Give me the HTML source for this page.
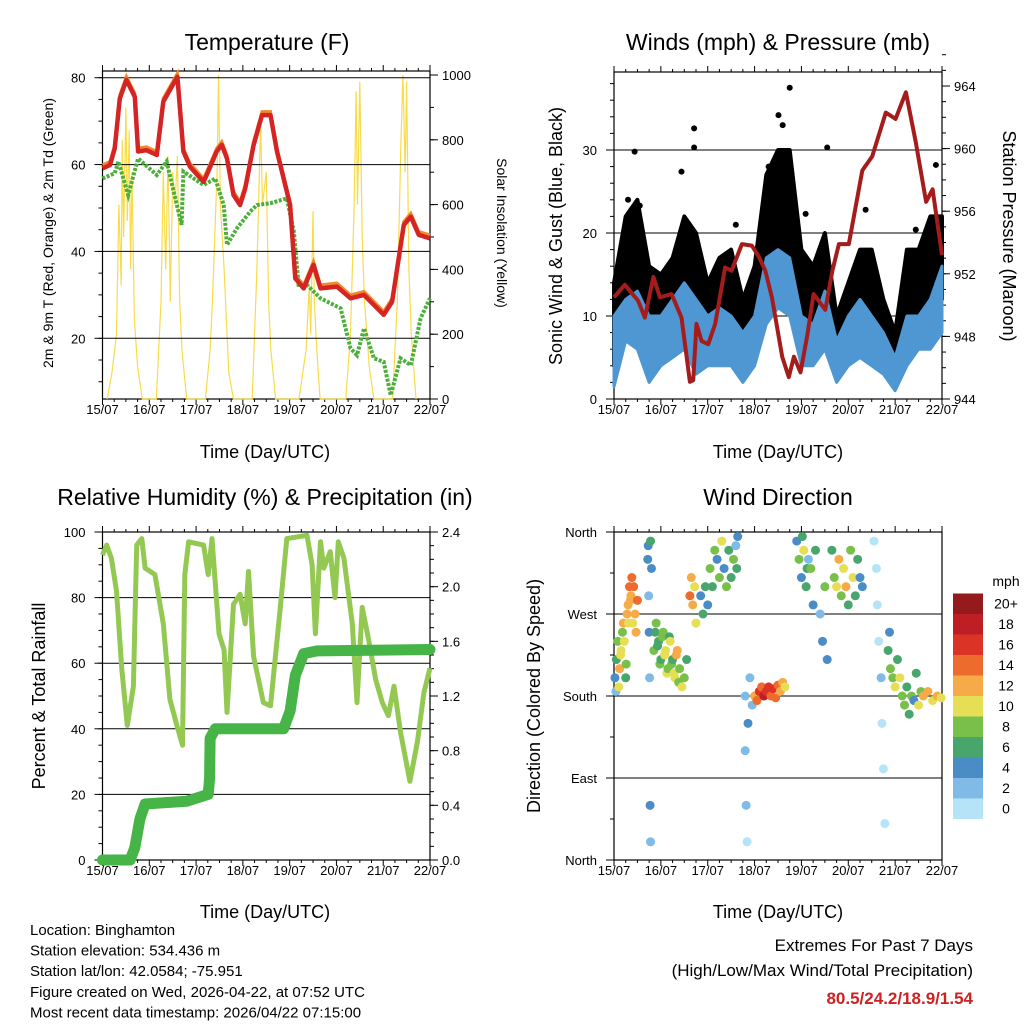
<!DOCTYPE html>
<html><head><meta charset="utf-8"><style>
html,body{margin:0;padding:0;background:#fff;}
svg{display:block;font-family:"Liberation Sans",Arial,sans-serif;}
</style></head><body>
<svg id="s" width="1024" height="1024" viewBox="0 0 1024 1024" xmlns="http://www.w3.org/2000/svg"></svg>
<script>
// ---------- DATA ----------
const dayLabels=["15/07","16/07","17/07","18/07","19/07","20/07","21/07","22/07"];
const tempT=[0,0.16,0.26,0.37,0.51,0.69,0.76,0.94,1.16,1.3,1.6,1.73,1.87,2.16,2.26,2.44,2.55,2.66,2.8,2.94,3.05,3.23,3.41,3.59,3.73,3.94,4.01,4.12,4.3,4.51,4.66,5.01,5.3,5.59,5.8,6.01,6.19,6.44,6.59,6.76,7];
const tempV=[59.1,59.9,63.7,75.2,79.5,75.6,63,63.3,62.2,74.5,80.2,63,59.5,56,58.4,63,64.5,61.4,53,50.7,54.5,64.5,71.4,71.4,63,53.8,50.7,33.8,31.5,36.9,31.5,31.9,29.2,30,27.7,25.4,28.4,46.1,48,43.8,43];
const dewT=[0,0.26,0.34,0.55,0.76,1.16,1.37,1.69,1.73,2.16,2.41,2.59,2.66,2.87,3.16,3.3,3.59,3.94,4.09,4.19,4.37,4.66,5.09,5.3,5.44,5.59,5.8,6.01,6.16,6.37,6.59,6.8,7];
const dewV=[56.8,58,60.7,53,61.4,57.6,60.7,46.1,58.4,55.3,56.8,50.7,41.5,45.3,49.2,50.7,51.1,52.2,44.5,32.3,32.3,29.2,26.9,17.7,16.1,22.3,15.4,14.6,6.9,15.4,13.8,24.6,29.2];
const solarT=[0.1,0.2,0.3,0.35,0.4,0.42,0.45,0.5,0.53,0.57,0.6,0.63,0.68,0.75,0.85,1.15,1.25,1.3,1.35,1.4,1.45,1.5,1.55,1.6,1.65,1.7,1.8,2.2,2.3,2.35,2.45,2.48,2.52,2.6,2.7,2.8,3.2,3.3,3.38,3.42,3.5,3.55,3.6,3.7,4.2,4.35,4.42,4.45,4.5,4.53,4.58,4.65,5.2,5.3,5.38,5.42,5.45,5.5,5.55,5.6,5.7,5.8,6.2,6.3,6.38,6.42,6.47,6.5,6.55,6.6,6.7];
const solarV=[0,80,200,600,350,800,500,900,550,830,400,700,250,100,0,0,300,700,400,750,300,700,600,750,300,150,0,0,150,300,700,1000,600,400,80,0,0,400,850,600,700,300,150,0,0,150,350,200,580,300,150,0,0,200,600,950,600,980,500,300,100,0,0,300,800,1000,700,980,400,200,0];
const rhT=[0,0.09,0.19,0.3,0.41,0.53,0.66,0.73,0.84,0.91,1.12,1.3,1.44,1.59,1.71,1.76,1.84,2.16,2.26,2.34,2.49,2.6,2.66,2.8,2.94,3.05,3.12,3.23,3.44,3.59,3.8,3.94,4.37,4.48,4.55,4.66,4.73,4.87,4.97,5.04,5.16,5.34,5.44,5.55,5.69,5.84,5.98,6.11,6.23,6.37,6.57,6.73,6.87,7];
const rhV=[93,96,92,82,58.5,41,53,96,98,89,87,72,49,41,35,87,97,96,87,98,69,64,45,78,81,72,88,62,48,47,77,98,99,90,69,97,89,94,80,97,92,72,48,77,67,55,48,44,53,39,24,36,51,58.5];
const prT=[0,0.59,0.69,0.8,0.91,1.8,2.26,2.29,2.3,2.41,3.87,4.01,4.12,4.3,4.59,7];
const prV=[0,0,0.09,0.3,0.41,0.43,0.48,0.6,0.89,0.96,0.96,1.09,1.35,1.51,1.53,1.54];
const presT=[0,0.23,0.51,0.66,0.84,0.98,1.23,1.44,1.62,1.69,1.76,1.87,2.01,2.16,2.37,2.51,2.73,2.94,3.09,3.23,3.37,3.59,3.73,3.84,3.98,4.12,4.26,4.51,4.66,4.8,5.01,5.3,5.51,5.8,6.01,6.23,6.44,6.66,6.8,7];
const presV=[950.5,951.3,950.3,949.2,951.8,950.5,950.7,949.2,945.1,945.2,948.8,947.7,947.5,948.8,952.4,952.2,953.9,953.8,953.1,952.2,950.5,946.7,945.4,946.7,945.7,948,950.7,949.7,952.2,953.9,953.9,958.6,959.5,962.3,961.9,963.6,960.4,956.6,957.4,953.2];
const windT=[0,0.25,0.5,0.75,1,1.25,1.5,1.75,2,2.25,2.5,2.75,3,3.25,3.5,3.75,4,4.25,4.5,4.75,5,5.25,5.5,5.75,6,6.25,6.5,6.75,7];
const gustHi=[14,22,24,16,15,17,22,20,14,17,18,12,16,27,30,30,18,16,20,10,14,18,18,12,8,18,18,22,22];
const gustLo=[4,10,12,8,8,8,12,9,7,7,8,4,6,12,18,15,8,8,8,3,6,8,8,5,2,8,9,10,12];
const windHi=[10,12,13,10,10,12,14,12,10,11,10,8,10,17,18,17,10,9,13,7,10,12,10,8,5,10,10,12,16];
const windLo=[1.5,7,6,2,4,5,6,3,4,4,4,2,4,9,11,10,4,4,6,2,4,5,4,3,1,4,6,6,8];
const outT=[0.44,1.71,1.71,3.75,3.51,4.55,1.44,0.55,5.37,6.44,6.87,4.09,3.3,3.6,0.3,2.6];
const outV=[29.8,32.6,30.3,37.5,34.2,30.3,27.4,23.3,22.8,20.4,28.2,22.3,28,33,24,21];
const wdT=[0.02,0.04,0.05,0.08,0.1,0.12,0.14,0.15,0.18,0.2,0.22,0.25,0.26,0.28,0.3,0.31,0.33,0.35,0.36,0.38,0.4,0.42,0.45,0.47,0.5,0.72,0.73,0.74,0.75,0.76,0.77,0.78,0.78,0.8,0.85,0.88,0.9,0.93,0.95,0.98,1.0,1.03,1.05,1.08,1.1,1.13,1.15,1.18,1.2,1.23,1.25,1.28,1.3,1.33,1.35,1.38,1.4,1.45,1.5,1.55,1.62,1.65,1.68,1.72,1.75,1.85,1.9,1.95,2.0,2.05,2.1,2.15,2.2,2.25,2.3,2.35,2.4,2.45,2.5,2.55,2.6,2.62,2.64,2.8,2.8,2.82,2.84,2.86,2.9,2.95,3.0,3.05,3.1,3.15,3.2,3.25,3.3,3.35,3.4,3.45,3.5,3.55,3.6,3.65,3.9,3.95,4.0,4.02,4.05,4.1,4.12,4.15,4.2,4.25,4.3,4.4,4.45,4.5,4.55,4.65,4.7,4.75,4.8,4.85,4.9,4.95,5.0,5.05,5.1,5.15,5.2,5.25,5.3,5.55,5.6,5.62,5.65,5.7,5.72,5.75,5.78,5.85,5.88,5.9,5.95,6.0,6.05,6.1,6.15,6.2,6.25,6.3,6.35,6.4,6.45,6.5,6.55,6.6,6.7,6.8,6.9,6.98];
const wdDir=[200,185,220,240,190,210,225,230,250,260,240,200,215,270,280,260,300,285,290,310,260,300,270,250,285,330,345,290,250,200,60,20,350,320,230,250,260,235,240,215,220,245,250,225,230,205,210,245,240,215,220,205,200,225,230,195,210,190,200,220,290,310,280,300,260,290,270,300,280,320,300,340,330,310,350,320,300,340,310,330,345,320,355,180,120,60,20,150,200,170,180,175,185,190,180,185,190,180,188,178,192,185,195,190,350,330,310,355,340,300,320,330,320,280,340,270,240,300,220,340,310,300,330,290,320,300,280,340,310,290,330,310,300,350,320,280,240,200,150,100,40,230,250,210,200,190,220,200,180,170,190,160,180,175,205,170,185,180,185,175,180,178];
const wdSpd=[4,3,6,8,10,12,11,11,8,12,10,6,9,12,13,11,14,12,12,15,11,15,13,12,14,4,5,3,5,2,4,3,6,4,8,7,9,7,7,8,6,9,8,10,10,11,9,7,11,8,7,10,10,12,12,9,9,11,8,6,14,13,12,10,11,5,6,7,5,8,6,9,4,8,10,5,9,7,6,8,3,6,4,3,2,2,1,4,2,3,12,14,16,15,18,17,16,14,17,15,15,13,12,10,4,8,5,6,10,6,7,3,8,4,7,3,5,8,4,6,9,11,12,8,10,13,7,9,11,6,7,5,4,1,0,1,1,2,1,1,1,6,5,8,9,10,7,11,8,9,6,7,8,5,7,10,8,12,13,11,12,10];
const cbLabels=["0","2","4","6","8","10","12","14","16","18","20+"];
const cbColors=["#b5e3f8","#7fbbe6","#4a8cc6","#48a56c","#78c04a","#e6df55","#f6ab48","#ee6b2e","#dc3327","#bd1f24","#951a1c"];

// ---------- HELPERS ----------
const S=document.getElementById('s');const NS="http://www.w3.org/2000/svg";
function el(tag,attrs,parent){const e=document.createElementNS(NS,tag);for(const k in attrs)e.setAttribute(k,attrs[k]);(parent||S).appendChild(e);return e;}
function txt(str,x,y,size,anchor,extra){const e=el('text',Object.assign({x:x,y:y,'font-size':size,'text-anchor':anchor||'middle',fill:'#000'},extra||{}));e.textContent=str;return e;}
function lin(d0,d1,r0,r1){return v=>r0+(v-d0)*(r1-r0)/(d1-d0);}
function poly(xs,ys,fx,fy,attrs){let p=xs.map((t,i)=>fx(t).toFixed(1)+','+fy(ys[i]).toFixed(1)).join(' ');return el('polyline',Object.assign({points:p,fill:'none'},attrs));}
function band(xs,lo,hi,fx,fy,attrs){let p=xs.map((t,i)=>fx(t).toFixed(1)+','+fy(hi[i]).toFixed(1));for(let i=xs.length-1;i>=0;i--)p.push(fx(xs[i]).toFixed(1)+','+fy(lo[i]).toFixed(1));return el('polygon',Object.assign({points:p.join(' ')},attrs));}
function named(e,n){return e;}
function rng(a,b,s){const r=[];for(let v=a;v<=b+1e-9;v+=s)r.push(+v.toFixed(4));return r;}

function frame(x0,x1,y0,y1,name){
  const g=el('g',{});
  
  el('rect',{x:x0,y:y0,width:x1-x0,height:y1-y0,fill:'none',stroke:'#000','stroke-width':1.2},g);
  const fx=lin(0,7,x0,x1);
  for(let k=0;k<=28;k++){const x=fx(k/4),L=(k%4==0)?6:3;
    el('line',{x1:x,y1:y1,x2:x,y2:y1+L,stroke:'#000'},g);el('line',{x1:x,y1:y0,x2:x,y2:y0-L,stroke:'#000'},g);}
  dayLabels.forEach((d,i)=>{const t=txt(d,fx(i),y1+15,13);});
  return fx;
}
function leftTicks(vals,labels,fy,x0,x1,grid,minor){
  minor.forEach(v=>el('line',{x1:x0,y1:fy(v),x2:x0-4,y2:fy(v),stroke:'#000'}));
  vals.forEach((v,i)=>{const y=fy(v);el('line',{x1:x0-8,y1:y,x2:x0,y2:y,stroke:'#000'});
    if(grid)el('line',{x1:x0,y1:y,x2:x1,y2:y,stroke:'#000','stroke-width':1});
    const t=txt(labels[i],x0-17,y+5,13,'end');});
}
function rightTicks(vals,labels,fy,x1,minor){
  minor.forEach(v=>el('line',{x1:x1,y1:fy(v),x2:x1+4,y2:fy(v),stroke:'#000'}));
  vals.forEach((v,i)=>{const y=fy(v);el('line',{x1:x1,y1:y,x2:x1+8,y2:y,stroke:'#000'});
    const t=txt(labels[i],x1+12,y+5,13,'start');});
}

// ---------- PANEL 1: TEMPERATURE ----------
(function(){
  const x0=102.5,x1=430,y0=71,y1=399;
  const fy=lin(80,20,77.7,338.3), fs=lin(0,1000,399,75);
  const fx=frame(x0,x1,y0,y1,'temperature');
  named(poly(solarT,solarV,fx,fs,{stroke:'#f7dc4a','stroke-width':1.2}),'solar-line');
  leftTicks([20,40,60,80],["20","40","60","80"],fy,x0,x1,true,rng(10,80,5));
  rightTicks([0,200,400,600,800,1000],["0","200","400","600","800","1000"],fs,x1,rng(0,1000,100));
  named(poly(tempT,tempV.map(v=>v+0.8),fx,fy,{stroke:'#f08a2a','stroke-width':3}),'temp-9m-line');
  named(poly(dewT,dewV,fx,fy,{stroke:'#4caf3c','stroke-width':4,'stroke-dasharray':'3 1.5'}),'dewpoint-line');
  named(poly(tempT,tempV,fx,fy,{stroke:'#d42424','stroke-width':4.5,'stroke-linejoin':'round'}),'temp-2m-line');
  named(txt("Temperature (F)",267,50,23),'chart-title');
  named(txt("Time (Day/UTC)",265,458,18),'x-axis-title');
  named(txt("2m & 9m T (Red, Orange) & 2m Td (Green)",0,0,14,'middle',{transform:'translate(53,233) rotate(-90)'}),'y-axis-title');
  named(txt("Solar Insolation (Yellow)",0,0,14,'middle',{transform:'translate(497,233) rotate(90)'}),'right-axis-title');
})();

// ---------- PANEL 2: WINDS ----------
(function(){
  const x0=614,x1=942,y0=72,y1=399;
  const fy=lin(0,30,399,150), fp=lin(944,964,399,86);
  const fx=frame(x0,x1,y0,y1,'winds');
  leftTicks([0,10,20,30],["0","10","20","30"],fy,x0,x1,true,rng(0,39,2));
  rightTicks([944,948,952,956,960,964],["944","948","952","956","960","964"],fp,x1,rng(944,966,1));
  named(band(windT,gustLo,gustHi,fx,fy,{fill:'#000',stroke:'#000','stroke-width':4,'stroke-linejoin':'round'}),'gust-band');
  const gd=el('g',{});named(gd,'gust-points');
  outT.forEach((t,i)=>{const c=el('circle',{cx:fx(t),cy:fy(outV[i]),r:3,fill:'#000'},gd);});
  named(band(windT,windLo,windHi,fx,fy,{fill:'#4f97d2',stroke:'#4f97d2','stroke-width':3,'stroke-linejoin':'round'}),'wind-band');
  named(poly(presT,presV,fx,fp,{stroke:'#a51c1c','stroke-width':4,'stroke-linejoin':'round'}),'pressure-line');
  named(txt("Winds (mph) & Pressure (mb)",778,50,23),'chart-title');
  named(txt("Time (Day/UTC)",778,458,18),'x-axis-title');
  named(txt("Sonic Wind & Gust (Blue, Black)",0,0,18,'middle',{transform:'translate(562,236) rotate(-90)'}),'y-axis-title');
  named(txt("Station Pressure (Maroon)",0,0,18,'middle',{transform:'translate(1003,236) rotate(90)'}),'right-axis-title');
})();

// ---------- PANEL 3: RH ----------
(function(){
  const x0=102.5,x1=430,y0=532,y1=860;
  const fy=lin(0,100,860,532), fr=lin(0,2.4,860,532);
  const fx=frame(x0,x1,y0,y1,'humidity');
  leftTicks([0,20,40,60,80,100],["0","20","40","60","80","100"],fy,x0,x1,true,rng(0,100,5));
  rightTicks([0,0.4,0.8,1.2,1.6,2.0,2.4],["0.0","0.4","0.8","1.2","1.6","2.0","2.4"],fr,x1,rng(0,2.4,0.1));
  named(poly(rhT,rhV,fx,fy,{stroke:'#93c952','stroke-width':5,'stroke-linejoin':'round'}),'rh-line');
  named(poly(prT,prV,fx,fr,{stroke:'#46b446','stroke-width':11,'stroke-linejoin':'round','stroke-linecap':'round'}),'precip-line');
  named(txt("Relative Humidity (%) & Precipitation (in)",265,505,23),'chart-title');
  named(txt("Time (Day/UTC)",265,918,18),'x-axis-title');
  named(txt("Percent & Total Rainfall",0,0,18,'middle',{transform:'translate(45,696) rotate(-90)'}),'y-axis-title');
})();

// ---------- PANEL 4: WIND DIRECTION ----------
(function(){
  const x0=614,x1=942,y0=532,y1=860;
  const fy=lin(0,360,860,532);
  const fx=frame(x0,x1,y0,y1,'wind-direction');
  leftTicks([0,90,180,270,360],["North","East","South","West","North"],fy,x0,x1,true,rng(0,360,45));
  const g=el('g',{});named(g,'direction-points');
  wdT.forEach((t,i)=>{let b=Math.min(10,Math.floor(wdSpd[i]/2));
    const c=el('circle',{cx:fx(t),cy:fy(wdDir[i]),r:4.5,fill:cbColors[b]},g);
    });
  const cb=el('g',{});named(cb,'speed-colorbar');
  cbColors.forEach((c,i)=>{const y=819-(i+1)*20.5;
    const r=el('rect',{x:953,y:y,width:30,height:20.5,fill:c},cb);
    const t=txt(cbLabels[i],1006,y+15,14);});
  named(txt("mph",1006,586,14),'colorbar-title');
  named(txt("Wind Direction",778,505,23),'chart-title');
  named(txt("Time (Day/UTC)",778,918,18),'x-axis-title');
  named(txt("Direction (Colored By Speed)",0,0,18,'middle',{transform:'translate(540,696) rotate(-90)'}),'y-axis-title');
})();

// ---------- FOOTER ----------
["Location: Binghamton","Station elevation: 534.436 m","Station lat/lon: 42.0584; -75.951","Figure created on Wed, 2026-04-22, at 07:52 UTC","Most recent data timestamp: 2026/04/22 07:15:00"].forEach((s,i)=>{
  const t=txt(s,30,935+i*20.6,15,'start');});
named(txt("Extremes For Past 7 Days",973,951,17,'end'),'extremes-title');
named(txt("(High/Low/Max Wind/Total Precipitation)",973,976,17,'end'),'extremes-subtitle');
named(txt("80.5/24.2/18.9/1.54",973,1004,17,'end',{fill:'#cc2222','font-weight':'bold'}),'extremes-values');
</script>
</body></html>
